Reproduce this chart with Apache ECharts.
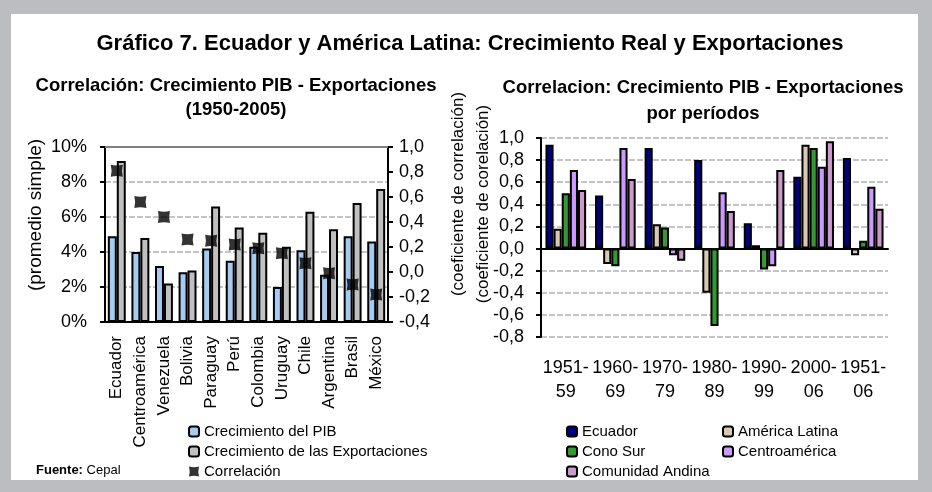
<!DOCTYPE html>
<html>
<head>
<meta charset="utf-8">
<script src="https://cdn.jsdelivr.net/npm/echarts@6/dist/echarts.min.js"></script>
<style>
  html, body { margin: 0; padding: 0; background: #bcbdc1; }
  #panel { position: absolute; left: 11px; top: 14px; width: 907px; height: 466px; background: #fff; }
  #chart { position: absolute; left: 0; top: 0; width: 932px; height: 492px; }
</style>
</head>
<body>
<div id="panel"></div>
<div id="chart"></div>
<script>
// datos: grafico izquierdo (1950-2005)
var paises = ['Ecuador', 'Centroamérica', 'Venezuela', 'Bolivia', 'Paraguay', 'Perú',
              'Colombia', 'Uruguay', 'Chile', 'Argentina', 'Brasil', 'México'];
var crecPib = [4.9, 4.0, 3.2, 2.85, 4.2, 3.5, 4.3, 2.0, 4.1, 2.7, 4.9, 4.6];
var crecExport = [9.2, 4.8, 2.2, 2.95, 6.6, 5.4, 5.1, 4.3, 6.3, 5.3, 6.8, 7.6];
var correlacion = [0.81, 0.56, 0.44, 0.26, 0.25, 0.22, 0.19, 0.15, 0.07, -0.01, -0.10, -0.18];

// datos: grafico derecho (por periodos)
var periodos = ['1951-59', '1960-69', '1970-79', '1980-89', '1990-99', '2000-06', '1951-06'];
var ecuador = [0.94, 0.48, 0.91, 0.80, 0.23, 0.65, 0.82];
var americaLatina = [0.18, -0.14, 0.22, -0.40, 0.03, 0.94, -0.06];
var conoSur = [0.50, -0.16, 0.19, -0.70, -0.19, 0.91, 0.07];
var centroamerica = [0.71, 0.91, -0.06, 0.51, -0.16, 0.74, 0.56];
var comunidadAndina = [0.53, 0.63, -0.11, 0.34, 0.71, 0.97, 0.36];

var FUENTE = '"Liberation Sans", Arial, sans-serif';
var marca = 'path://M0,0 Q5,1.3 10,0 Q8.7,5 10,10 Q5,8.7 0,10 Q1.3,5 0,0 Z';

function coma(v) {
    if (Math.abs(v) < 1e-9) v = 0;
    return v.toFixed(1).replace('.', ',');
}

var myChart = echarts.init(document.getElementById('chart'));

var ejeNegro = { lineStyle: { color: '#000', width: 2 } };
var tickNegro = { length: 5, lineStyle: { color: '#000', width: 2 } };
var gridGris = { lineStyle: { color: '#c4c4c4', width: 2, type: [6, 2] } };

function barra(nombre, datos, color, ejeX, ejeY, extra) {
    var s = {
        name: nombre, type: 'bar', data: datos,
        xAxisIndex: ejeX, yAxisIndex: ejeY,
        itemStyle: { color: color, borderColor: '#000', borderWidth: 2 }
    };
    for (var k in extra) s[k] = extra[k];
    return s;
}

function texto(t, x, y, font, rot) {
    return { type: 'text', x: x, y: y, rotation: rot || 0,
        style: { text: t, align: 'center', verticalAlign: 'middle', font: font + ' ' + FUENTE, fill: '#000' } };
}

var leyendaTxt = { fontSize: 15, fontFamily: FUENTE, color: '#000' };

var option = {
    animation: false,
    textStyle: { fontFamily: FUENTE },
    graphic: [
        texto('Gráfico 7. Ecuador y América Latina: Crecimiento Real y Exportaciones', 470, 44, 'bold 22px'),
        texto('Correlación: Crecimiento PIB - Exportaciones', 236, 86, 'bold 18.5px'),
        texto('(1950-2005)', 236, 110, 'bold 18.5px'),
        texto('Correlacion: Crecimiento PIB - Exportaciones', 703, 88, 'bold 18.5px'),
        texto('por períodos', 703, 114, 'bold 18.5px'),
        texto('(promedio simple)', 36, 215, '19px', Math.PI / 2),
        texto('(coeficiente de correlación)', 458, 194, '17px', Math.PI / 2),
        texto('(coeficiente de corelación)', 483, 204, '17px', Math.PI / 2),
        { type: 'text', x: 36, y: 470, style: { text: '{b|Fuente:} Cepal',
            verticalAlign: 'middle', font: '13px ' + FUENTE, fill: '#000',
            rich: { b: { fontWeight: 'bold', fontSize: 13, fontFamily: FUENTE } } } }
    ],
    legend: [
        { orient: 'vertical', left: 188, top: 424, padding: 0, itemWidth: 10, itemHeight: 10, itemGap: 5,
          textStyle: leyendaTxt,
          data: ['Crecimiento del PIB', 'Crecimiento de las Exportaciones', 'Correlación'] },
        { orient: 'vertical', left: 566, top: 424, padding: 0, itemWidth: 10, itemHeight: 10, itemGap: 5,
          textStyle: leyendaTxt,
          data: ['Ecuador', 'Cono Sur', 'Comunidad Andina'] },
        { orient: 'vertical', left: 722, top: 424, padding: 0, itemWidth: 10, itemHeight: 10, itemGap: 5,
          textStyle: leyendaTxt,
          data: ['América Latina', 'Centroamérica'] }
    ],
    grid: [
        { left: 105, right: 544, top: 147, bottom: 170 },
        { left: 541, right: 44, top: 138, bottom: 155 }
    ],
    xAxis: [
        { gridIndex: 0, type: 'category', data: paises,
          axisLine: ejeNegro, axisTick: tickNegro,
          axisLabel: { rotate: 90, margin: 14, fontSize: 17, color: '#000', interval: 0 } },
        { gridIndex: 1, type: 'category', data: periodos,
          axisLine: { onZero: true, lineStyle: { color: '#000', width: 2 } }, axisTick: tickNegro,
          axisLabel: { margin: 19, fontSize: 18, lineHeight: 24, color: '#000', interval: 0, hideOverlap: false,
              formatter: function (v) { return v.replace('-', '-\n'); } } }
    ],
    yAxis: [
        { gridIndex: 0, type: 'value', min: 0, max: 10, interval: 2,
          axisLine: { show: true, lineStyle: { color: '#000', width: 2 } },
          axisTick: { show: true, length: 5, lineStyle: { color: '#000', width: 2 } },
          splitLine: gridGris,
          axisLabel: { fontSize: 18, color: '#000', margin: 18, formatter: '{value}%' } },
        { gridIndex: 0, type: 'value', min: -0.4, max: 1.0, interval: 0.2, position: 'right',
          axisLine: { show: true, lineStyle: { color: '#000', width: 2 } },
          axisTick: { show: true, length: 5, lineStyle: { color: '#000', width: 2 } },
          splitLine: { show: false },
          axisLabel: { fontSize: 18, color: '#000', margin: 11, formatter: coma } },
        { gridIndex: 1, type: 'value', min: -0.8, max: 1.0, interval: 0.2,
          axisLine: { show: true, lineStyle: { color: '#000', width: 2 } },
          axisTick: { show: true, length: 5, lineStyle: { color: '#000', width: 2 } },
          splitLine: gridGris,
          axisLabel: { fontSize: 18, color: '#000', margin: 17, formatter: coma } }
    ],
    series: [
        barra('Crecimiento del PIB', crecPib, '#a6caf0', 0, 0, {
            barGap: '0%', barCategoryGap: '24%',
            markLine: { silent: true, symbol: 'none', label: { show: false },
                lineStyle: { color: '#808080', width: 2, type: 'solid' }, data: [{ yAxis: 10 }] } }),
        barra('Crecimiento de las Exportaciones', crecExport, '#c0c0c0', 0, 0, {}),
        { name: 'Correlación', type: 'scatter', data: correlacion, xAxisIndex: 0, yAxisIndex: 1,
          symbol: marca, symbolSize: 12, itemStyle: { color: '#000' }, z: 5 },
        barra('Ecuador', ecuador, '#000080', 1, 2, { barGap: '0%', barCategoryGap: '18%' }),
        barra('América Latina', americaLatina, '#d9c8b4', 1, 2, {}),
        barra('Cono Sur', conoSur, '#339933', 1, 2, {}),
        barra('Centroamérica', centroamerica, '#cc99ff', 1, 2, {}),
        barra('Comunidad Andina', comunidadAndina, '#cc99cc', 1, 2, {})
    ]
};

myChart.setOption(option);
</script>
</body>
</html>
